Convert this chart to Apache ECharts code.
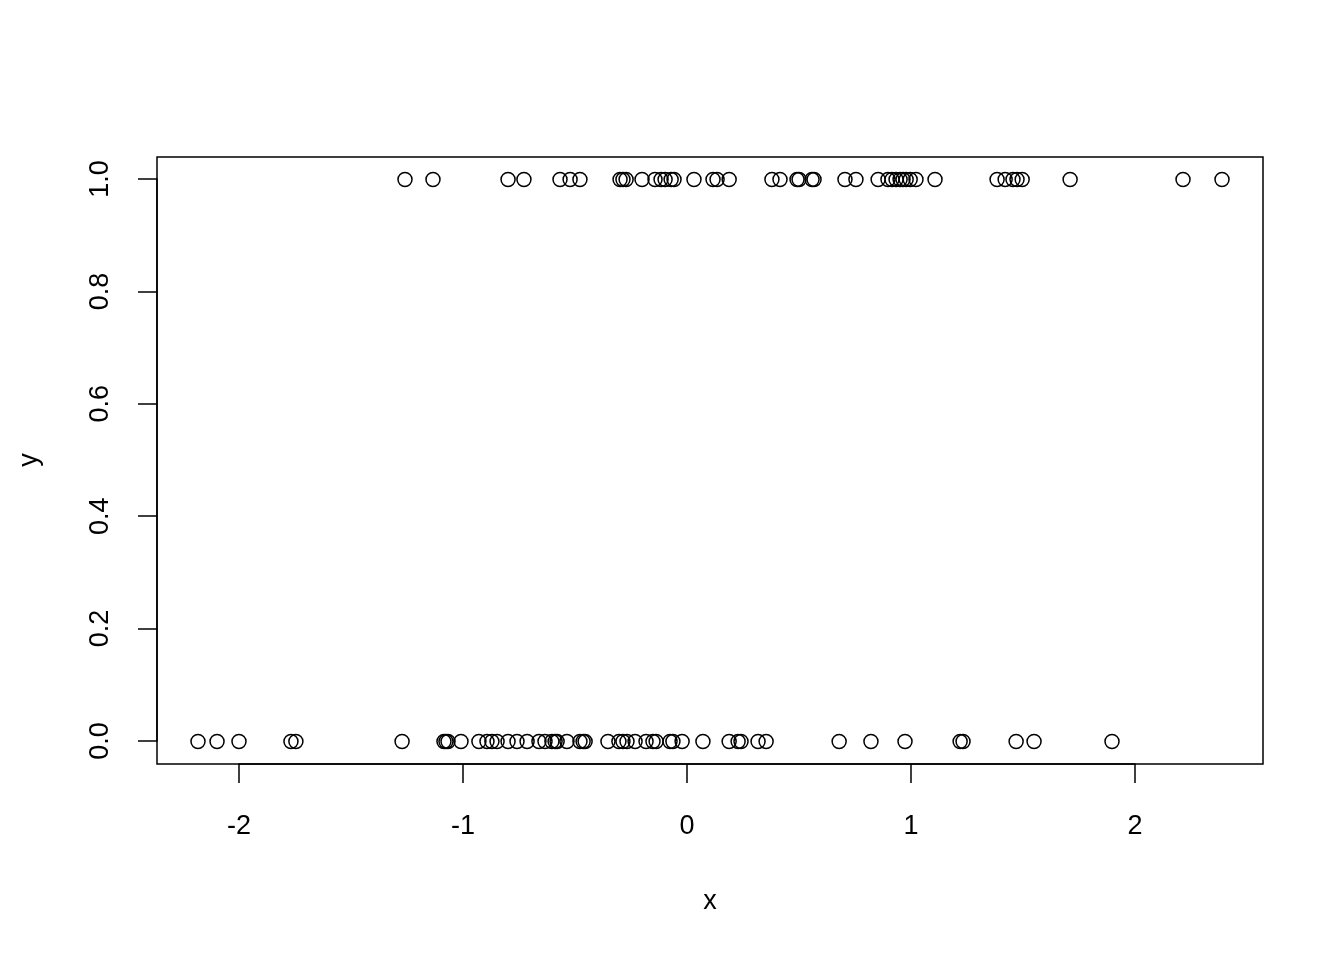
<!DOCTYPE html>
<html>
<head>
<meta charset="utf-8">
<script src="https://cdn.jsdelivr.net/npm/echarts@6/dist/echarts.min.js"></script>
<style>html,body{margin:0;padding:0;background:#fff;}#c{width:1344px;height:960px;}</style>
</head>
<body>
<div id="c"></div>
<script>
const xValues = [
  -1.259, -1.134, -0.799, -0.728, -0.567, -0.522, -0.478, -0.299, -0.286, -0.272,
  -0.201, -0.143, -0.116, -0.098, -0.071, -0.058, 0.031, 0.116, 0.134, 0.188,
  0.379, 0.415, 0.491, 0.500, 0.558, 0.567, 0.705, 0.754, 0.853, 0.897,
  0.915, 0.933, 0.951, 0.964, 0.978, 0.996, 1.022, 1.107, 1.384, 1.420,
  1.455, 1.473, 1.496, 1.710, 2.214, 2.388,
  -2.183, -2.098, -2.000, -1.768, -1.746, -1.272, -1.085, -1.076, -1.067, -1.009,
  -0.929, -0.893, -0.871, -0.848, -0.799, -0.759, -0.714, -0.661, -0.634, -0.603,
  -0.589, -0.580, -0.536, -0.478, -0.464, -0.455, -0.353, -0.304, -0.286, -0.268,
  -0.232, -0.183, -0.152, -0.138, -0.076, -0.063, -0.022, 0.071, 0.188, 0.228,
  0.241, 0.317, 0.353, 0.679, 0.821, 0.973, 1.219, 1.232, 1.469, 1.549, 1.897
];
const yValues = [
  1, 1, 1, 1, 1, 1, 1, 1, 1, 1,
  1, 1, 1, 1, 1, 1, 1, 1, 1, 1,
  1, 1, 1, 1, 1, 1, 1, 1, 1, 1,
  1, 1, 1, 1, 1, 1, 1, 1, 1, 1,
  1, 1, 1, 1, 1, 1,
  0, 0, 0, 0, 0, 0, 0, 0, 0, 0,
  0, 0, 0, 0, 0, 0, 0, 0, 0, 0,
  0, 0, 0, 0, 0, 0, 0, 0, 0, 0,
  0, 0, 0, 0, 0, 0, 0, 0, 0, 0,
  0, 0, 0, 0, 0, 0, 0, 0, 0, 0, 0
];
const xTicks = [-2, -1, 0, 1, 2];
const yTicks = [0, 0.2, 0.4, 0.6, 0.8, 1.0];
const xTitle = 'x';
const yTitle = 'y';

const FONT = 'Liberation Sans, Arial, Helvetica, sans-serif';
const chart = echarts.init(document.getElementById('c'), null, {renderer: 'canvas'});
const pts = xValues.map((v, i) => [v, yValues[i]]);

chart.setOption({
  animation: false,
  backgroundColor: '#fff',
  grid: [
    {left: 157, right: 81, top: 157, bottom: 196, show: true, borderColor: '#000', borderWidth: 1.5, backgroundColor: 'transparent'},
    {left: 239, right: 209, top: 157, bottom: 196, show: false},
    {left: 157, right: 81, top: 179, bottom: 219, show: false}
  ],
  xAxis: [
    {gridIndex: 0, type: 'value', min: -2.366, max: 2.571, show: false},
    {gridIndex: 1, type: 'value', min: xTicks[0], max: xTicks[xTicks.length - 1], interval: 1, position: 'bottom',
      axisLine: {show: true, lineStyle: {color: '#000', width: 1.5}},
      axisTick: {show: true, inside: false, length: 19, lineStyle: {color: '#000', width: 1.5}},
      axisLabel: {show: true, margin: 49, color: '#000', fontSize: 27, fontFamily: FONT, formatter: v => String(v)},
      splitLine: {show: false}},
    {gridIndex: 2, type: 'value', show: false}
  ],
  yAxis: [
    {gridIndex: 0, type: 'value', min: -0.04, max: 1.04, show: false},
    {gridIndex: 1, type: 'value', show: false},
    {gridIndex: 2, type: 'value', min: yTicks[0], max: yTicks[yTicks.length - 1], interval: 0.2, position: 'left',
      axisLine: {show: true, lineStyle: {color: '#000', width: 1.5}},
      axisTick: {show: true, inside: false, length: 19, lineStyle: {color: '#000', width: 1.5}},
      axisLabel: {show: true, margin: 43, rotate: 90, color: '#000', fontSize: 27, fontFamily: FONT, formatter: v => v.toFixed(1)},
      splitLine: {show: false}}
  ],
  graphic: [
    {type: 'text', x: 710, y: 902, style: {text: xTitle, fill: '#000', font: '27px ' + FONT, textAlign: 'center', textVerticalAlign: 'middle'}},
    {type: 'text', x: 30, y: 460, rotation: Math.PI / 2, style: {text: yTitle, fill: '#000', font: '27px ' + FONT, textAlign: 'center', textVerticalAlign: 'middle'}}
  ],
  series: [{
    type: 'scatter',
    xAxisIndex: 0, yAxisIndex: 0,
    data: pts,
    symbol: 'circle',
    symbolSize: 14,
    itemStyle: {color: 'rgba(0,0,0,0)', borderColor: '#000', borderWidth: 1.5, opacity: 1},
    emphasis: {disabled: true},
    silent: true
  }]
});
</script>
</body>
</html>
